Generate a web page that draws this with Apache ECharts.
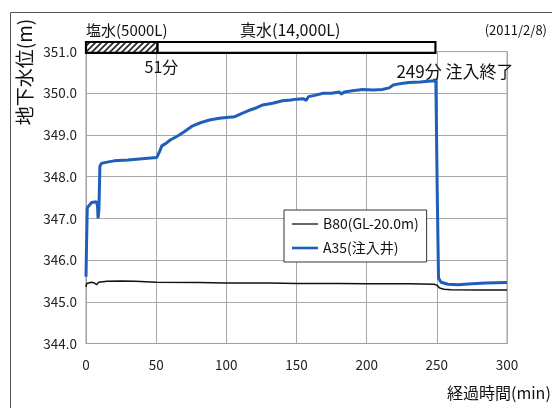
<!DOCTYPE html>
<html>
<head>
<meta charset="utf-8">
<script src="https://cdn.jsdelivr.net/npm/echarts@6/dist/echarts.min.js"></script>
<style>
  html, body { margin: 0; padding: 0; background: #fff; }
  #chart { width: 552px; height: 408px; }
</style>
</head>
<body>
<div id="chart"></div>
<script>
// Elapsed time (min) and groundwater level (m) for the injection well A35
const a35Time = [0, 0.4, 0.9, 2, 4, 7.4, 8.2, 8.6, 9.2, 9.9, 11, 15, 20, 30, 40, 50.5,
  51.8, 52.6, 54, 57, 60, 65, 70, 76, 82, 88, 95, 100, 106, 110, 117, 122, 126, 133,
  140, 146, 150, 155, 157, 158.5, 163, 169, 175, 180.5, 182, 184, 190, 197, 205, 211,
  216, 219, 222, 226, 230, 238, 244, 249.3, 250.3, 251.2, 253, 258, 265, 275, 285, 300];
const a35Level = [345.6, 346.4, 347.25, 347.3, 347.38, 347.4, 347.3, 347.0, 347.2, 348.25, 348.32, 348.35, 348.38, 348.4, 348.43, 348.46,
  348.48, 348.62, 348.74, 348.8, 348.88, 348.97, 349.08, 349.22, 349.3, 349.36, 349.4, 349.42, 349.44, 349.5, 349.6, 349.66, 349.72, 349.76,
  349.82, 349.84, 349.86, 349.87, 349.83, 349.92, 349.95, 350.0, 350.0, 350.03, 349.98, 350.03, 350.06, 350.09, 350.08, 350.09,
  350.13, 350.2, 350.22, 350.24, 350.26, 350.27, 350.29, 350.3, 347.6, 345.57, 345.47, 345.42, 345.41, 345.43, 345.45, 345.46];

// Observation well B80 (GL-20.0m)
const b80Time = [0, 0.5, 1.5, 4, 6, 7.5, 9, 15, 25, 35, 50, 80, 100, 130, 150, 180, 200, 230, 248, 250, 252, 255, 260, 280, 300];
const b80Level = [345.36, 345.44, 345.47, 345.47, 345.45, 345.41, 345.47, 345.49, 345.5, 345.49, 345.47, 345.46, 345.45,
  345.45, 345.44, 345.44, 345.43, 345.43, 345.42, 345.4, 345.33, 345.3, 345.29, 345.28, 345.28];

// Injection schedule: salt water until saltEnd, fresh water until injectionEnd
const injectionStart = 0;
const saltEnd = 51;
const injectionEnd = 249;
const phaseLabels = ['塩水(5000L)', '真水(14,000L)'];
const dateLabel = '(2011/2/8)';

const xTicks = { min: 0, max: 300, interval: 50 };
const yTicks = { min: 344, max: 351, interval: 1 };

const seriesNames = ['B80(GL-20.0m)', 'A35(注入井)'];

const FONT = '"Noto Sans CJK JP", "Noto Sans", sans-serif';

function zip(xs, ys) { return xs.map((x, i) => [x, ys[i]]); }

// Diagonal hatch for the salt-water phase
function makeHatch() {
  const c = document.createElement('canvas');
  c.width = 6; c.height = 6;
  const g = c.getContext('2d');
  g.fillStyle = '#fff';
  g.fillRect(0, 0, 6, 6);
  g.strokeStyle = '#222';
  g.lineWidth = 1.6;
  g.beginPath();
  g.moveTo(-1, 7); g.lineTo(7, -1);
  g.moveTo(-4, 4); g.lineTo(4, -4);
  g.moveTo(2, 10); g.lineTo(10, 2);
  g.stroke();
  return { image: c, repeat: 'repeat' };
}
const hatch = makeHatch();

const BAND_TOP = 351.23;
const BAND_BOTTOM = 350.97;

const chart = echarts.init(document.getElementById('chart'), null, { renderer: 'canvas' });

const option = {
  backgroundColor: '#fff',
  animation: false,
  textStyle: { fontFamily: FONT },
  grid: {
    left: 86, right: 45, top: 51.6, bottom: 64.5,
    show: true, borderColor: '#a0a0a0', borderWidth: 1, backgroundColor: 'transparent'
  },
  xAxis: {
    type: 'value',
    min: xTicks.min, max: xTicks.max, interval: xTicks.interval,
    axisLine: { show: true, lineStyle: { color: '#a0a0a0', width: 1 } },
    axisTick: { show: false },
    axisLabel: { color: '#222', fontSize: 13.5, margin: 15, fontFamily: FONT },
    splitLine: { show: true, lineStyle: { color: '#a8a8a8', width: 1 } }
  },
  yAxis: {
    type: 'value',
    min: yTicks.min, max: yTicks.max, interval: yTicks.interval,
    axisLine: { show: true, lineStyle: { color: '#a0a0a0', width: 1 } },
    axisTick: { show: false },
    axisLabel: { color: '#222', fontSize: 13.5, margin: 9, fontFamily: FONT,
      formatter: v => v.toFixed(1) },
    splitLine: { show: true, lineStyle: { color: '#a8a8a8', width: 1 } }
  },
  legend: {
    orient: 'vertical',
    left: 284, top: 210,
    padding: [7, 8, 7, 8],
    itemGap: 10,
    itemWidth: 26, itemHeight: 14,
    symbolKeepAspect: true,
    backgroundColor: '#fff',
    borderColor: '#333', borderWidth: 1,
    textStyle: { fontSize: 14, color: '#111', fontFamily: FONT },
    data: [
      { name: seriesNames[0], icon: 'path://M0,0H26V1.3H0Z' },
      { name: seriesNames[1], icon: 'path://M0,0H26V2.6H0Z' }
    ]
  },
  series: [
    {
      name: seriesNames[0],
      type: 'line',
      data: zip(b80Time, b80Level),
      symbol: 'none',
      lineStyle: { color: '#111', width: 1.5 },
      itemStyle: { color: '#111' },
      z: 3
    },
    {
      name: seriesNames[1],
      type: 'line',
      data: zip(a35Time, a35Level),
      symbol: 'none',
      lineStyle: { color: '#1f5fba', width: 3 },
      itemStyle: { color: '#1f5fba' },
      z: 4
    },
    {
      // injection schedule band above the plot
      type: 'custom',
      clip: false,
      silent: true,
      z: 5,
      encode: { x: [0, 1] },
      data: [[injectionStart, saltEnd, 1], [saltEnd, injectionEnd, 0]],
      renderItem: function (params, api) {
        const p0 = api.coord([api.value(0), BAND_TOP]);
        const p1 = api.coord([api.value(1), BAND_BOTTOM]);
        return {
          type: 'rect',
          shape: { x: p0[0], y: p0[1], width: p1[0] - p0[0], height: p1[1] - p0[1] },
          style: { fill: api.value(2) ? hatch : '#fff', stroke: '#000', lineWidth: 2.2 }
        };
      }
    }
  ]
};

chart.setOption(option);

// Text annotations positioned from axis values
function px(x, y) { return chart.convertToPixel({ gridIndex: 0 }, [x, y]); }
const pSalt = px(saltEnd, 351);
const pEnd = px(injectionEnd, 351);

chart.setOption({
  graphic: [
    {
      type: 'rect', silent: true, z: 0,
      shape: { x: 10.5, y: 12.5, width: 700, height: 600 },
      style: { fill: 'none', stroke: '#555', lineWidth: 1 }
    },
    {
      type: 'text', x: 25, y: 72, rotation: Math.PI / 2,
      style: { text: '地下水位(m)', font: '19px ' + FONT, fill: '#111',
        textAlign: 'center', textVerticalAlign: 'middle' }
    },
    {
      type: 'text', x: 447, y: 393,
      style: { text: '経過時間(min)', font: '16px ' + FONT, fill: '#111',
        textAlign: 'left', textVerticalAlign: 'middle' }
    },
    {
      type: 'text', x: 86, y: 30,
      style: { text: phaseLabels[0], font: '15px ' + FONT, fill: '#111',
        textAlign: 'left', textVerticalAlign: 'middle' }
    },
    {
      type: 'text', x: 240, y: 30,
      style: { text: phaseLabels[1], font: '16px ' + FONT, fill: '#111',
        textAlign: 'left', textVerticalAlign: 'middle' }
    },
    {
      type: 'text', x: 547, y: 30,
      style: { text: dateLabel, font: '13px ' + FONT, fill: '#111',
        textAlign: 'right', textVerticalAlign: 'middle' }
    },
    {
      type: 'text', x: pSalt[0] - 13, y: 67,
      style: { text: saltEnd + '分', font: '16px ' + FONT, fill: '#111',
        textAlign: 'left', textVerticalAlign: 'middle' }
    },
    {
      type: 'text', x: pEnd[0] - 39, y: 72,
      style: { text: injectionEnd + '分 注入終了', font: '17px ' + FONT, fill: '#111',
        textAlign: 'left', textVerticalAlign: 'middle' }
    }
  ]
});
</script>
</body>
</html>
